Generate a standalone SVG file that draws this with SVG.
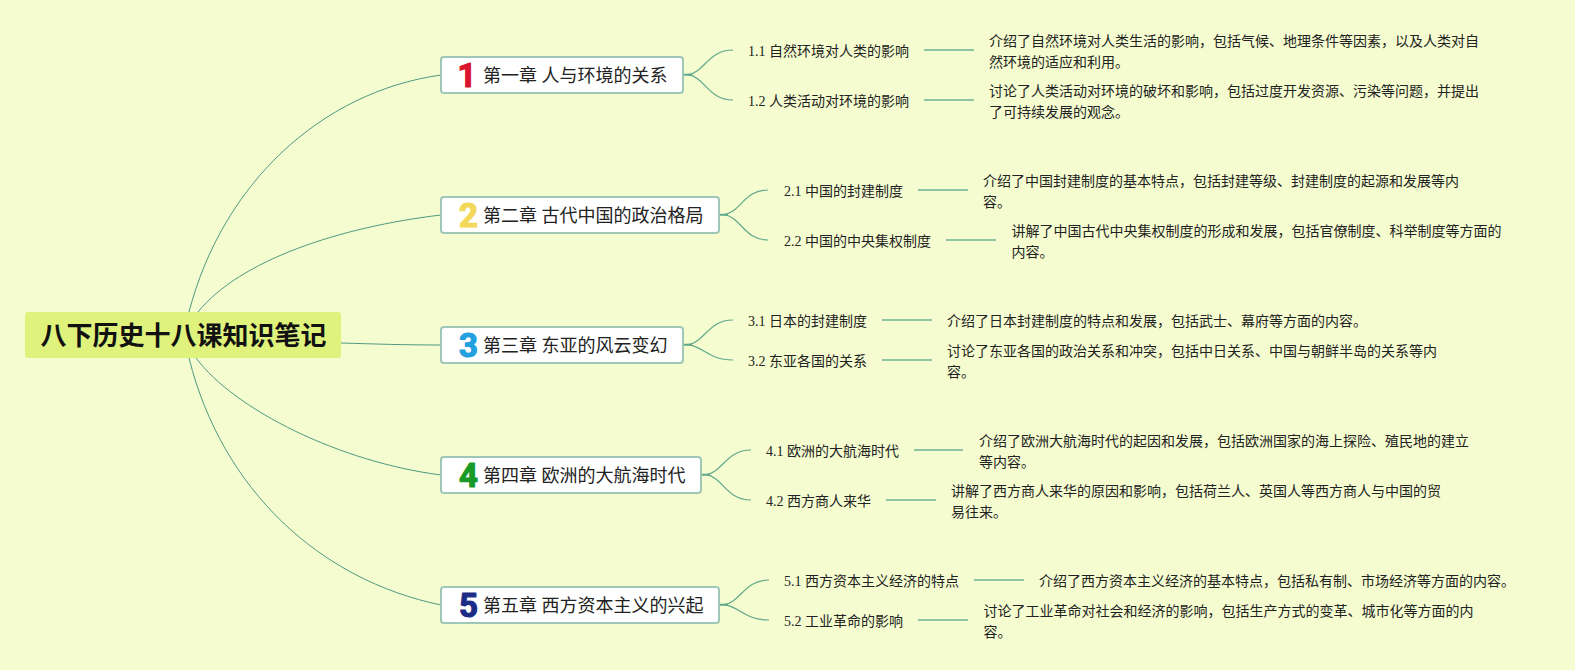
<svg xmlns="http://www.w3.org/2000/svg" width="1575" height="670" viewBox="0 0 1575 670">
<style>
text{font-family:"Liberation Serif","Noto Sans CJK SC",sans-serif;fill:#222}
.root-box{fill:#dff37c}
.root-text{font-family:"Noto Sans CJK SC",sans-serif;font-size:26px;font-weight:700;fill:#111}
.box{fill:#fff;stroke:#9fc7b5;stroke-width:2}
.ch{font-size:18px}
.t{font-size:14px}
.num{font-family:Roboto,sans-serif;font-weight:700;font-size:33px;text-anchor:middle;stroke-width:1.2;stroke-linejoin:round}
.main{fill:none;stroke:#4f9a80;stroke-width:1}
.sub{fill:none;stroke:#62a88c;stroke-width:1.2}
.stub{fill:none;stroke:#5fa98a;stroke-width:2}
.leaf{stroke:#8fc4a5;stroke-width:2}
</style>
<rect width="1575" height="670" fill="#f5fdd0"/>
<g id="connectors">
<path class="main" d="M189 312C222 185 320 92 441 75"/>
<path class="main" d="M198 312C240 260 340 227 441 215"/>
<path class="main" stroke-width="1.2" d="M341 343C375 344 405 345 441 345"/>
<path class="main" d="M196 358C235 410 340 462 441 475"/>
<path class="main" d="M189 358C222 490 320 580 441 605"/>
<path class="stub" d="M683 74.7H692M719 214.7H728M683 344.7H692M701 474.7H710M719 604.7H728"/>
<path class="sub" d="M688 74.7C705 72 708 50 733 50M688 74.7C705 77 708 100 733 100"/>
<path class="sub" d="M724 214.7C741 212 744 190 768 190M724 214.7C741 217 744 240 768 240"/>
<path class="sub" d="M688 344.7C705 342 708 320 733 320M688 344.7C705 347 708 360 733 360"/>
<path class="sub" d="M706 474.7C723 472 726 450 751 450M706 474.7C723 477 726 500 751 500"/>
<path class="sub" d="M724 604.7C741 602 744 580 769 580M724 604.7C741 607 744 620 769 620"/>
<path class="leaf" d="M924 50H974M924 100H974M918 190H968M946 240H996M882 320H932M882 360H932M914 450H963M886 500H936M974 580H1024M918 620H968"/>
</g>
<g id="root"><rect class="root-box" x="25" y="312" width="316" height="46" rx="3"/><text class="root-text" x="40.5" y="345">八下历史十八课知识笔记</text></g>
<g id="ch1"><rect class="box" x="441" y="57" width="242" height="36" rx="3"/><text class="num" x="467" y="86.5" style="fill:#d9152f;stroke:#d9152f">1</text><text class="ch" x="483" y="81.5">第一章 人与环境的关系</text></g>
<g id="ch2"><rect class="box" x="441" y="197" width="278" height="36" rx="3"/><text class="num" x="468.5" y="226.5" style="fill:#f3d85a;stroke:#f3d85a">2</text><text class="ch" x="483" y="221.5">第二章 古代中国的政治格局</text></g>
<g id="ch3"><rect class="box" x="441" y="327" width="242" height="36" rx="3"/><text class="num" x="468.5" y="356.5" style="fill:#23a0e0;stroke:#23a0e0">3</text><text class="ch" x="483" y="351.5">第三章 东亚的风云变幻</text></g>
<g id="ch4"><rect class="box" x="441" y="457" width="260" height="36" rx="3"/><text class="num" x="468.5" y="486.5" style="fill:#179a28;stroke:#179a28">4</text><text class="ch" x="483" y="481.5">第四章 欧洲的大航海时代</text></g>
<g id="ch5"><rect class="box" x="441" y="587" width="278" height="36" rx="3"/><text class="num" x="468.5" y="616.5" style="fill:#1c2c86;stroke:#1c2c86">5</text><text class="ch" x="483" y="611.5">第五章 西方资本主义的兴起</text></g>
<g id="n1-1"><text class="t" x="748" y="56">1.1 自然环境对人类的影响</text></g>
<g id="d1-1"><text class="t" x="989" y="46">介绍了自然环境对人类生活的影响，包括气候、地理条件等因素，以及人类对自</text><text class="t" x="989" y="67">然环境的适应和利用。</text></g>
<g id="n1-2"><text class="t" x="748" y="106">1.2 人类活动对环境的影响</text></g>
<g id="d1-2"><text class="t" x="989" y="96">讨论了人类活动对环境的破坏和影响，包括过度开发资源、污染等问题，并提出</text><text class="t" x="989" y="117">了可持续发展的观念。</text></g>
<g id="n2-1"><text class="t" x="784" y="196">2.1 中国的封建制度</text></g>
<g id="d2-1"><text class="t" x="983" y="186">介绍了中国封建制度的基本特点，包括封建等级、封建制度的起源和发展等内</text><text class="t" x="983" y="207">容。</text></g>
<g id="n2-2"><text class="t" x="784" y="246">2.2 中国的中央集权制度</text></g>
<g id="d2-2"><text class="t" x="1011.5" y="236">讲解了中国古代中央集权制度的形成和发展，包括官僚制度、科举制度等方面的</text><text class="t" x="1011.5" y="257">内容。</text></g>
<g id="n3-1"><text class="t" x="748" y="326">3.1 日本的封建制度</text></g>
<g id="d3-1"><text class="t" x="947" y="326">介绍了日本封建制度的特点和发展，包括武士、幕府等方面的内容。</text></g>
<g id="n3-2"><text class="t" x="748" y="366">3.2 东亚各国的关系</text></g>
<g id="d3-2"><text class="t" x="947" y="356">讨论了东亚各国的政治关系和冲突，包括中日关系、中国与朝鲜半岛的关系等内</text><text class="t" x="947" y="377">容。</text></g>
<g id="n4-1"><text class="t" x="766" y="456">4.1 欧洲的大航海时代</text></g>
<g id="d4-1"><text class="t" x="979" y="446">介绍了欧洲大航海时代的起因和发展，包括欧洲国家的海上探险、殖民地的建立</text><text class="t" x="979" y="467">等内容。</text></g>
<g id="n4-2"><text class="t" x="766" y="506">4.2 西方商人来华</text></g>
<g id="d4-2"><text class="t" x="951" y="496">讲解了西方商人来华的原因和影响，包括荷兰人、英国人等西方商人与中国的贸</text><text class="t" x="951" y="517">易往来。</text></g>
<g id="n5-1"><text class="t" x="784" y="586">5.1 西方资本主义经济的特点</text></g>
<g id="d5-1"><text class="t" x="1039" y="586">介绍了西方资本主义经济的基本特点，包括私有制、市场经济等方面的内容。</text></g>
<g id="n5-2"><text class="t" x="784" y="626">5.2 工业革命的影响</text></g>
<g id="d5-2"><text class="t" x="983.5" y="616">讨论了工业革命对社会和经济的影响，包括生产方式的变革、城市化等方面的内</text><text class="t" x="983.5" y="637">容。</text></g>
</svg>
